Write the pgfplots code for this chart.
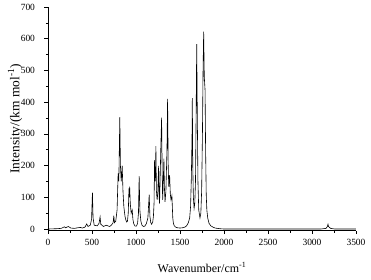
\documentclass[border=0pt]{standalone}
\usepackage{pgfplots}
\pgfplotsset{compat=1.18}
\usepackage{fontspec}
\setmainfont{Liberation Serif}
\begin{document}
\begin{tikzpicture}
\begin{axis}[
  scale only axis, width=308bp, height=223.6bp,
  xmin=0, xmax=3500, ymin=-5, ymax=700,
  axis x line*=bottom, axis y line*=left,
  axis line style={black, line width=0.6pt},
  tick align=outside, minor tick num=1,
  major tick length=3.5bp, minor tick length=2bp,
  tick style={black, line width=0.5pt},
  xtick={0,500,...,3500}, ytick={0,100,...,700},
  ticklabel style={font=\fontsize{9.5}{11}\selectfont},
  xticklabel style={yshift=-2bp},
  yticklabel style={xshift=-6bp},
  /pgf/number format/assume math mode=true,
  /pgf/number format/set thousands separator={},
  xlabel={Wavenumber/cm\textsuperscript{-1}},
  ylabel={Intensity/(km mol\textsuperscript{-1})},
  xlabel style={font=\fontsize{12}{14}\selectfont, at={(axis description cs:0.5,0)}, anchor=center, yshift=-37bp},
  ylabel style={font=\fontsize{13.5}{15}\selectfont, at={(axis description cs:0,0.5)}, anchor=center, yshift=33bp},
]
\addplot[black, line width=0.6pt] coordinates {
(0,0) (100,1) (150,2) (186,7) (200,4) (230,8) (260,3) (300,2) (340,4) (370,5)
(390,3) (420,6) (440,16) (455,8) (480,12) (495,30) (505,115) (512,35) (525,12)
(560,10) (580,18) (592,38) (600,15) (630,8) (660,12) (680,10) (700,8) (720,12)
(740,20) (748,42) (755,20) (770,25) (785,60) (797,175) (805,150) (816,353)
(823,200) (832,150) (843,200) (852,120) (862,70) (875,40) (885,28) (895,22) (903,25)
(912,50) (920,128) (924,100) (928,134) (935,80) (945,50) (957,60) (965,30)
(975,16) (990,9) (1005,9) (1018,18) (1028,50) (1036,167) (1044,60) (1055,25) (1068,12) (1085,8)
(1100,9) (1118,17) (1135,35) (1150,108) (1158,40) (1168,20) (1178,15) (1190,22) (1198,40)
(1205,80) (1211,217) (1216,150) (1222,180) (1226,261) (1232,120) (1240,92)
(1247,110) (1257,199) (1263,100) (1268,80) (1276,180) (1283,270) (1291,351)
(1297,180) (1303,92) (1310,150) (1317,222) (1323,130) (1330,86) (1340,120)
(1352,250) (1359,410) (1366,200) (1372,134) (1382,170) (1390,110) (1398,92)
(1408,105) (1413,70) (1418,35) (1425,18) (1435,10) (1450,6) (1470,4) (1500,3) (1530,4) (1555,6) (1575,10)
(1595,20) (1610,35) (1620,70) (1628,150) (1633,230) (1637,300) (1640,413) (1645,200) (1652,100)
(1660,65) (1668,80) (1676,150) (1683,350) (1690,583) (1697,350) (1704,150)
(1713,60) (1727,35) (1737,50) (1746,120) (1755,300) (1762,500) (1769,622)
(1776,480) (1785,437) (1791,250) (1798,110) (1805,60) (1815,35) (1830,18) (1850,10) (1875,6)
(1900,3) (1950,1) (2000,0) (3100,0) (3160,2) (3175,8) (3182,15) (3188,8)
(3210,2) (3260,0) (3500,0)
};
\end{axis}
\path[use as bounding box] (-48bp,-49.4bp) rectangle (323bp,230.6bp);
\end{tikzpicture}
\end{document}
